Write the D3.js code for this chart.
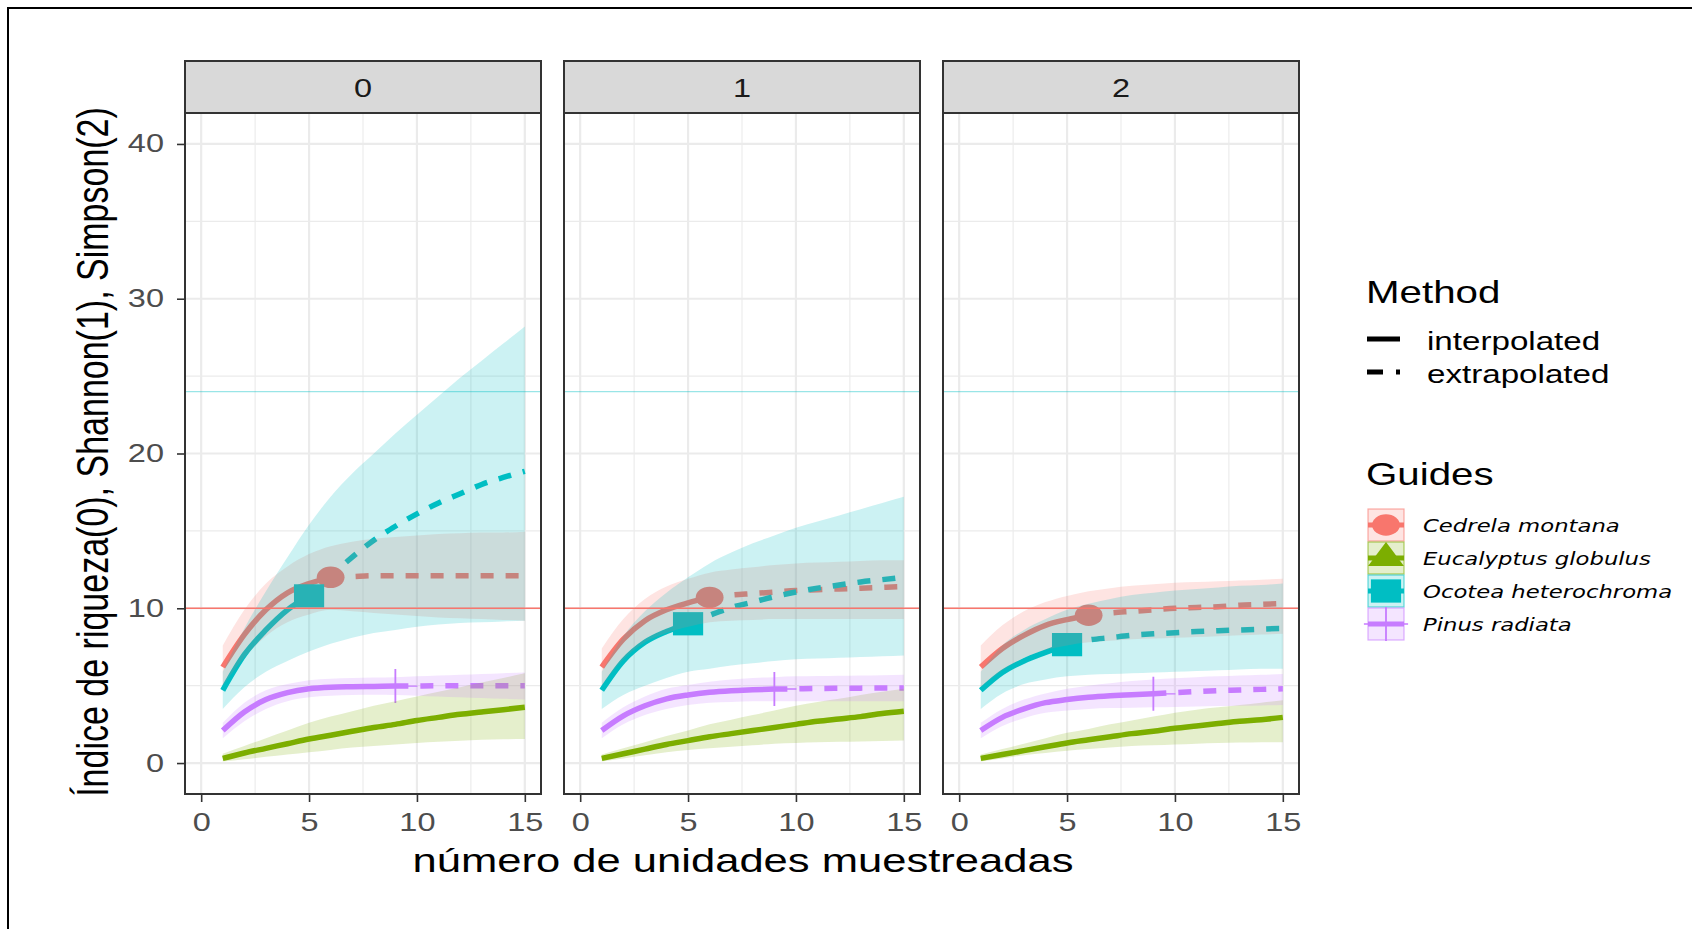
<!DOCTYPE html>
<html>
<head>
<meta charset="utf-8">
<script src="https://cdn.jsdelivr.net/npm/d3@7"></script>
<style>
  body { margin: 0; background: #fff; }
  text { font-family: "Liberation Sans", Arial, sans-serif; }
</style>
</head>
<body>
<svg id="chart"></svg>
<script>
// ---- data ----
const sizes = [1, 2, 3, 4, 5, 6, 7, 8, 9, 10, 11, 12, 13, 14, 15];
const orders = ['0', '1', '2'];
const species = ['Cedrela montana', 'Eucalyptus globulus', 'Ocotea heterochroma', 'Pinus radiata'];
const observedSize = [6, null, 5, 9];   // Eucalyptus observed beyond 15
const refLines = [10, 24];
const xTicks = [0, 5, 10, 15];
const yTicks = [0, 10, 20, 30, 40];

// q = 0
const q0CedrelaEst = [6.2, 8.3, 9.9, 11.0, 11.6, 12.0, 12.05, 12.1, 12.1, 12.1, 12.1, 12.1, 12.1, 12.1, 12.1];
const q0CedrelaLo = [5.0, 6.8, 8.2, 9.1, 9.6, 9.9, 9.8, 9.7, 9.6, 9.5, 9.4, 9.35, 9.3, 9.25, 9.2];
const q0CedrelaHi = [7.6, 9.9, 11.6, 12.7, 13.5, 14.0, 14.3, 14.5, 14.6, 14.7, 14.8, 14.85, 14.9, 14.9, 14.95];
const q0EucalyptusEst = [0.3, 0.65, 0.95, 1.25, 1.55, 1.8, 2.05, 2.3, 2.5, 2.75, 2.95, 3.15, 3.3, 3.45, 3.6];
const q0EucalyptusLo = [0.1, 0.25, 0.4, 0.55, 0.7, 0.85, 1.0, 1.1, 1.2, 1.3, 1.38, 1.44, 1.5, 1.53, 1.55];
const q0EucalyptusHi = [0.6, 1.1, 1.6, 2.1, 2.6, 3.0, 3.35, 3.7, 4.0, 4.3, 4.6, 4.9, 5.2, 5.5, 5.8];
const q0OcoteaEst = [4.7, 7.0, 8.6, 9.9, 10.8, 12.1, 13.3, 14.4, 15.3, 16.1, 16.8, 17.4, 18.0, 18.45, 18.85];
const q0OcoteaLo = [3.5, 4.9, 5.9, 6.6, 7.2, 7.7, 8.1, 8.4, 8.6, 8.8, 8.95, 9.05, 9.1, 9.15, 9.2];
const q0OcoteaHi = [5.9, 8.7, 11.1, 13.3, 15.4, 17.2, 18.7, 20.0, 21.3, 22.5, 23.7, 24.9, 26.0, 27.1, 28.2];
const q0PinusEst = [2.1, 3.3, 4.1, 4.55, 4.8, 4.9, 4.93, 4.95, 4.97, 4.98, 4.99, 5.0, 5.0, 5.0, 5.0];
const q0PinusLo = [1.6, 2.7, 3.5, 4.0, 4.25, 4.35, 4.4, 4.42, 4.4, 4.35, 4.3, 4.25, 4.2, 4.15, 4.1];
const q0PinusHi = [2.6, 3.9, 4.7, 5.1, 5.35, 5.45, 5.5, 5.52, 5.55, 5.6, 5.65, 5.7, 5.75, 5.8, 5.85];

// q = 1
const q1CedrelaEst = [6.2, 8.0, 9.2, 9.9, 10.35, 10.7, 10.85, 10.95, 11.05, 11.15, 11.2, 11.25, 11.3, 11.35, 11.4];
const q1CedrelaLo = [5.0, 6.7, 7.8, 8.4, 8.8, 9.1, 9.2, 9.25, 9.3, 9.3, 9.3, 9.3, 9.3, 9.3, 9.3];
const q1CedrelaHi = [7.4, 9.3, 10.6, 11.4, 11.9, 12.3, 12.5, 12.65, 12.8, 12.9, 12.95, 13.0, 13.05, 13.1, 13.1];
const q1EucalyptusEst = [0.3, 0.6, 0.9, 1.2, 1.45, 1.7, 1.9, 2.1, 2.3, 2.5, 2.7, 2.85, 3.0, 3.2, 3.35];
const q1EucalyptusLo = [0.1, 0.3, 0.5, 0.7, 0.85, 0.95, 1.05, 1.15, 1.25, 1.3, 1.35, 1.38, 1.4, 1.42, 1.45];
const q1EucalyptusHi = [0.55, 0.95, 1.35, 1.75, 2.1, 2.5, 2.8, 3.1, 3.4, 3.7, 3.95, 4.15, 4.4, 4.6, 4.8];
const q1OcoteaEst = [4.7, 6.6, 7.8, 8.5, 9.0, 9.55, 10.05, 10.4, 10.75, 11.05, 11.3, 11.5, 11.7, 11.85, 12.0];
const q1OcoteaLo = [3.5, 4.4, 5.0, 5.5, 5.9, 6.1, 6.3, 6.45, 6.6, 6.7, 6.75, 6.8, 6.85, 6.9, 6.95];
const q1OcoteaHi = [5.9, 8.2, 9.8, 11.0, 12.0, 12.9, 13.6, 14.2, 14.7, 15.2, 15.6, 16.0, 16.4, 16.8, 17.2];
const q1PinusEst = [2.1, 3.05, 3.7, 4.15, 4.4, 4.57, 4.67, 4.73, 4.78, 4.8, 4.82, 4.83, 4.84, 4.85, 4.85];
const q1PinusLo = [1.6, 2.5, 3.1, 3.5, 3.75, 3.9, 3.95, 4.0, 4.0, 4.0, 4.0, 4.0, 4.0, 4.0, 4.0];
const q1PinusHi = [2.6, 3.6, 4.3, 4.8, 5.05, 5.25, 5.4, 5.5, 5.55, 5.6, 5.62, 5.64, 5.66, 5.68, 5.7];

// q = 2
const q2CedrelaEst = [6.2, 7.4, 8.25, 8.9, 9.27, 9.55, 9.7, 9.8, 9.9, 10.0, 10.05, 10.1, 10.2, 10.25, 10.3];
const q2CedrelaLo = [4.9, 6.0, 6.8, 7.3, 7.6, 7.8, 7.9, 8.0, 8.05, 8.1, 8.15, 8.2, 8.25, 8.3, 8.35];
const q2CedrelaHi = [7.6, 8.9, 9.8, 10.4, 10.8, 11.1, 11.3, 11.45, 11.55, 11.65, 11.7, 11.75, 11.8, 11.85, 11.9];
const q2EucalyptusEst = [0.3, 0.55, 0.8, 1.05, 1.3, 1.5, 1.7, 1.9, 2.05, 2.25, 2.4, 2.55, 2.7, 2.8, 2.95];
const q2EucalyptusLo = [0.1, 0.3, 0.5, 0.65, 0.8, 0.9, 1.0, 1.1, 1.15, 1.2, 1.25, 1.3, 1.32, 1.34, 1.35];
const q2EucalyptusHi = [0.55, 0.9, 1.25, 1.6, 1.95, 2.2, 2.5, 2.75, 3.0, 3.25, 3.45, 3.6, 3.75, 3.9, 4.05];
const q2OcoteaEst = [4.7, 5.85, 6.6, 7.15, 7.65, 7.95, 8.1, 8.25, 8.35, 8.42, 8.5, 8.55, 8.6, 8.65, 8.7];
const q2OcoteaLo = [3.5, 4.5, 5.1, 5.4, 5.6, 5.7, 5.75, 5.8, 5.85, 5.9, 5.95, 6.0, 6.05, 6.1, 6.1];
const q2OcoteaHi = [5.9, 7.6, 8.6, 9.3, 9.9, 10.3, 10.6, 10.85, 11.0, 11.15, 11.25, 11.35, 11.45, 11.5, 11.6];
const q2PinusEst = [2.1, 2.95, 3.5, 3.9, 4.1, 4.25, 4.35, 4.42, 4.47, 4.55, 4.62, 4.68, 4.72, 4.76, 4.8];
const q2PinusLo = [1.6, 2.4, 2.9, 3.25, 3.4, 3.5, 3.55, 3.58, 3.6, 3.62, 3.65, 3.68, 3.7, 3.72, 3.75];
const q2PinusHi = [2.6, 3.5, 4.1, 4.5, 4.8, 5.0, 5.15, 5.3, 5.4, 5.48, 5.55, 5.6, 5.65, 5.7, 5.75];

const estTable = [
  [q0CedrelaEst, q0EucalyptusEst, q0OcoteaEst, q0PinusEst],
  [q1CedrelaEst, q1EucalyptusEst, q1OcoteaEst, q1PinusEst],
  [q2CedrelaEst, q2EucalyptusEst, q2OcoteaEst, q2PinusEst]];
const loTable = [
  [q0CedrelaLo, q0EucalyptusLo, q0OcoteaLo, q0PinusLo],
  [q1CedrelaLo, q1EucalyptusLo, q1OcoteaLo, q1PinusLo],
  [q2CedrelaLo, q2EucalyptusLo, q2OcoteaLo, q2PinusLo]];
const hiTable = [
  [q0CedrelaHi, q0EucalyptusHi, q0OcoteaHi, q0PinusHi],
  [q1CedrelaHi, q1EucalyptusHi, q1OcoteaHi, q1PinusHi],
  [q2CedrelaHi, q2EucalyptusHi, q2OcoteaHi, q2PinusHi]];

// ---- layout ----
const svgWidth = 1692, svgHeight = 929;
const SX = 1.3;                     // the picture is stretched sideways
const colors = ['#F8766D', '#7CAE00', '#00BFC4', '#C77CFF'];
const shapes = ['circle', 'triangle', 'square', 'plus'];
const refColors = ['#F8766D', '#00BFC4'];
const panelW = 356, panelGap = 23, firstLeft = 185;
const stripTop = 61, stripBottom = 113, plotBottom = 794;

const svg = d3.select('#chart').attr('width', svgWidth).attr('height', svgHeight);

svg.append('rect')
  .attr('x', 8).attr('y', 8).attr('width', svgWidth + 20).attr('height', svgHeight + 20)
  .attr('fill', 'none').attr('stroke', '#000').attr('stroke-width', 2);

function label(parent, x, y, str, size, opts = {}) {
  return parent.append('text')
    .attr('transform', `translate(${x},${y}) scale(${SX},1)` + (opts.rotate ? ' rotate(-90)' : ''))
    .attr('text-anchor', opts.anchor || 'start')
    .attr('font-size', size)
    .attr('fill', opts.fill || '#000')
    .attr('font-style', opts.italic ? 'italic' : null)
    .style('font-family', opts.family || null)
    .text(str);
}

function drawSymbol(parent, shape, cx, cy, color) {
  const t = `translate(${cx},${cy}) scale(${SX},1)`;
  if (shape === 'plus') {
    parent.append('path').attr('d', 'M-17,0H17M0,-17V17').attr('transform', t)
      .attr('stroke', color).attr('stroke-width', 1.4).attr('fill', 'none');
  } else {
    const type = {circle: d3.symbolCircle, triangle: d3.symbolTriangle, square: d3.symbolSquare}[shape];
    const area = {circle: 360, triangle: 330, square: 540}[shape];
    parent.append('path').attr('d', d3.symbol(type, area)()).attr('transform', t).attr('fill', color);
  }
}

const y = d3.scaleLinear().domain([-2, 42]).range([plotBottom, stripBottom]);

orders.forEach((q, i) => {
  const left = firstLeft + i * (panelW + panelGap);
  const x = d3.scaleLinear().domain([-0.75, 15.75]).range([left, left + panelW]);
  const g = svg.append('g');

  svg.append('clipPath').attr('id', 'clip' + i).append('rect')
    .attr('x', left).attr('y', stripBottom).attr('width', panelW).attr('height', plotBottom - stripBottom);

  g.append('rect').attr('x', left).attr('y', stripBottom)
    .attr('width', panelW).attr('height', plotBottom - stripBottom).attr('fill', '#fff');

  // grid
  const grid = g.append('g').attr('stroke', '#EBEBEB');
  [2.5, 7.5, 12.5].forEach(v => grid.append('line').attr('x1', x(v)).attr('x2', x(v))
    .attr('y1', stripBottom).attr('y2', plotBottom).attr('stroke-width', 1.1));
  [5, 15, 25, 35].forEach(v => grid.append('line').attr('x1', left).attr('x2', left + panelW)
    .attr('y1', y(v)).attr('y2', y(v)).attr('stroke-width', 1.1));
  xTicks.forEach(v => grid.append('line').attr('x1', x(v)).attr('x2', x(v))
    .attr('y1', stripBottom).attr('y2', plotBottom).attr('stroke-width', 2.2));
  yTicks.forEach(v => grid.append('line').attr('x1', left).attr('x2', left + panelW)
    .attr('y1', y(v)).attr('y2', y(v)).attr('stroke-width', 2.2));

  const marks = g.append('g').attr('clip-path', `url(#clip${i})`);
  const line = d3.line().x(d => x(d.m)).y(d => y(d.est)).curve(d3.curveMonotoneX);
  const area = d3.area().x(d => x(d.m)).y0(d => y(d.lo)).y1(d => y(d.hi)).curve(d3.curveMonotoneX);

  const rowsBySpecies = species.map((s, k) => sizes.map((m, j) => ({
    m, est: estTable[i][k][j], lo: loTable[i][k][j], hi: hiTable[i][k][j]})));

  // lines
  species.forEach((s, k) => {
    const rows = rowsBySpecies[k];
    const obs = observedSize[k];
    const interp = rows.filter(d => obs == null || d.m <= obs);
    const extrap = rows.filter(d => obs != null && d.m >= obs);
    marks.append('path').datum(interp).attr('d', line)
      .attr('fill', 'none').attr('stroke', colors[k]).attr('stroke-width', 5.5);
    if (extrap.length > 1) {
      marks.append('path').datum(extrap).attr('d', line)
        .attr('fill', 'none').attr('stroke', colors[k]).attr('stroke-width', 5.5)
        .attr('stroke-dasharray', '13,12');
    }
  });

  // observed points
  species.forEach((s, k) => {
    const obs = observedSize[k];
    if (obs == null) return;
    const d = rowsBySpecies[k].find(r => r.m === obs);
    drawSymbol(marks, shapes[k], x(d.m), y(d.est), colors[k]);
  });

  // ribbons
  species.forEach((s, k) => {
    marks.append('path').datum(rowsBySpecies[k]).attr('d', area)
      .attr('fill', colors[k]).attr('fill-opacity', 0.2);
  });

  // reference lines
  refLines.forEach((v, r) => {
    marks.append('line').attr('x1', left).attr('x2', left + panelW)
      .attr('y1', y(v)).attr('y2', y(v))
      .attr('stroke', refColors[r]).attr('stroke-width', 1.4)
      .attr('stroke-opacity', r === 0 ? 1 : 0.4);
  });

  g.append('rect').attr('x', left).attr('y', stripBottom)
    .attr('width', panelW).attr('height', plotBottom - stripBottom)
    .attr('fill', 'none').attr('stroke', '#333').attr('stroke-width', 2);

  // strip
  g.append('rect').attr('x', left).attr('y', stripTop)
    .attr('width', panelW).attr('height', stripBottom - stripTop)
    .attr('fill', '#D9D9D9').attr('stroke', '#333').attr('stroke-width', 2);
  label(g, left + panelW / 2, (stripTop + stripBottom) / 2 + 10, q, 25, {anchor: 'middle', fill: '#1A1A1A'});

  // x axis
  const ax = svg.append('g').attr('transform', `translate(0,${plotBottom})`)
    .call(d3.axisBottom(x).tickValues(xTicks).tickSize(8).tickPadding(11));
  ax.select('.domain').remove();
  ax.attr('font-family', null);
  ax.selectAll('line').attr('stroke', '#333').attr('stroke-width', 1.6);
  ax.selectAll('text').attr('font-size', 25).attr('fill', '#4D4D4D')
    .attr('transform', `scale(${SX},1)`);

  if (i === 0) {
    const ay = svg.append('g').attr('transform', `translate(${left},0)`)
      .call(d3.axisLeft(y).tickValues(yTicks).tickSize(8).tickPadding(14));
    ay.select('.domain').remove();
    ay.attr('font-family', null);
    ay.selectAll('line').attr('stroke', '#333').attr('stroke-width', 1.6);
    ay.selectAll('text').attr('font-size', 25).attr('fill', '#4D4D4D')
      .attr('x', 0).attr('transform', `translate(-21,0) scale(${SX},1)`);
  }
});

// axis titles
label(svg, 743, 872, 'número de unidades muestreadas', 33.5, {anchor: 'middle'});
label(svg, 108, 452, 'Índice de riqueza(0), Shannon(1), Simpson(2)', 34, {anchor: 'middle', rotate: true});

// legend: Method
const legend = svg.append('g');
label(legend, 1366, 303, 'Method', 31);
legend.append('line').attr('x1', 1367).attr('x2', 1400).attr('y1', 339).attr('y2', 339)
  .attr('stroke', '#000').attr('stroke-width', 5);
label(legend, 1427, 350, 'interpolated', 25.5);
legend.append('line').attr('x1', 1367).attr('x2', 1400).attr('y1', 372).attr('y2', 372)
  .attr('stroke', '#000').attr('stroke-width', 5).attr('stroke-dasharray', '16,13');
label(legend, 1427, 383, 'extrapolated', 25.5);

// legend: Guides
label(legend, 1366, 485, 'Guides', 31);
species.forEach((s, k) => {
  const top = 509 + k * 33, cx = 1386, cy = top + 16;
  const key = legend.append('g');
  key.append('line').attr('x1', 1368).attr('x2', 1404).attr('y1', cy).attr('y2', cy)
    .attr('stroke', colors[k]).attr('stroke-width', 5);
  drawSymbol(key, shapes[k], cx, cy, colors[k]);
  key.append('rect').attr('x', 1368).attr('y', top).attr('width', 36).attr('height', 32)
    .attr('fill', colors[k]).attr('fill-opacity', 0.2)
    .attr('stroke', colors[k]).attr('stroke-opacity', 0.6).attr('stroke-width', 1.2);
  label(legend, 1423, cy + 7, s, 17.5, {italic: true, family: '"DejaVu Sans", sans-serif'});
});
</script>
</body>
</html>
